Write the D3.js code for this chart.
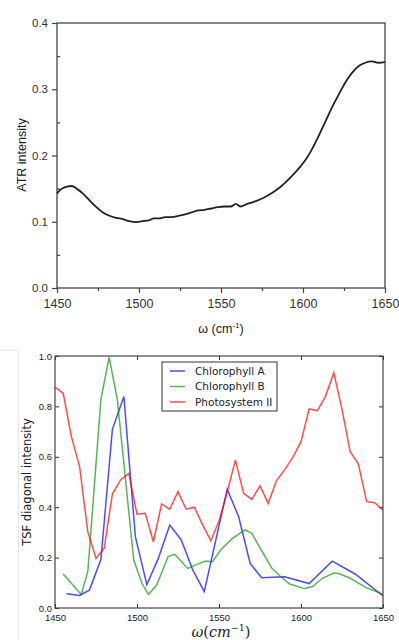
<!DOCTYPE html>
<html>
<head>
<meta charset="utf-8">
<script src="https://cdn.jsdelivr.net/npm/d3@7"></script>
<style>
  body { margin: 0; background: #fff; }
  svg { display: block; }
</style>
</head>
<body>
<svg id="chart" width="399" height="640"></svg>
<script>
// top panel: ATR spectrum
const atrOmega = [1450, 1453, 1456, 1459, 1462, 1466, 1470, 1474, 1478, 1482, 1486, 1490, 1494, 1498,
  1502, 1506, 1509, 1512, 1516, 1520, 1524, 1528, 1532, 1536, 1540, 1544, 1548, 1552, 1556, 1559,
  1562, 1566, 1570, 1574, 1578, 1582, 1586, 1590, 1594, 1598, 1602, 1606, 1610, 1614, 1618, 1622,
  1626, 1630, 1634, 1638, 1642, 1646, 1650];
const atrValues = [0.143, 0.150, 0.153, 0.154, 0.150, 0.142, 0.132, 0.122, 0.114, 0.109, 0.106, 0.104, 0.101, 0.0995,
  0.101, 0.102, 0.105, 0.105, 0.107, 0.107, 0.109, 0.111, 0.114, 0.117, 0.118, 0.120, 0.122, 0.123, 0.123, 0.127,
  0.123, 0.127, 0.130, 0.134, 0.139, 0.145, 0.152, 0.161, 0.171, 0.182, 0.195, 0.212, 0.232, 0.253, 0.274, 0.293,
  0.311, 0.325, 0.335, 0.340, 0.342, 0.340, 0.341];
const atrYTicks = [0, 0.1, 0.2, 0.3, 0.4];
const atrYMinor = [0.05, 0.15, 0.25, 0.35];
const omegaTicks = [1450, 1500, 1550, 1600, 1650];
const omegaMinor = [1475, 1525, 1575, 1625];

// bottom panel: TSF diagonal
const chlAOmega = [1457, 1465, 1471, 1478, 1485, 1492, 1499, 1506, 1513, 1520, 1527, 1534, 1541, 1555,
  1562, 1569, 1576, 1590, 1605, 1619, 1633, 1650];
const chlAValues = [0.057, 0.050, 0.071, 0.193, 0.709, 0.839, 0.283, 0.093, 0.197, 0.329, 0.270, 0.151, 0.065, 0.471,
  0.362, 0.177, 0.120, 0.124, 0.097, 0.186, 0.135, 0.048];
const chlBOmega = [1455, 1466, 1470, 1478, 1483, 1488, 1498, 1503, 1507, 1512, 1519, 1523, 1531, 1538,
  1542, 1546, 1551, 1558, 1566, 1570, 1582, 1587, 1593, 1602, 1607, 1613, 1620, 1623, 1630, 1640, 1650];
const chlBValues = [0.135, 0.054, 0.144, 0.828, 0.995, 0.828, 0.190, 0.098, 0.054, 0.091, 0.204, 0.213, 0.157, 0.177,
  0.186, 0.184, 0.230, 0.275, 0.310, 0.296, 0.160, 0.128, 0.095, 0.077, 0.085, 0.118, 0.139, 0.137, 0.118, 0.080, 0.055];
const psOmega = d3.range(1450, 1651, 5);
const psValues = [0.876, 0.852, 0.680, 0.561, 0.303, 0.197, 0.237, 0.452, 0.508, 0.534, 0.372, 0.376, 0.263, 0.413,
  0.392, 0.462, 0.392, 0.400, 0.330, 0.267, 0.345, 0.460, 0.587, 0.455, 0.431, 0.485, 0.415, 0.505, 0.548, 0.598,
  0.660, 0.790, 0.783, 0.841, 0.934, 0.788, 0.620, 0.571, 0.422, 0.418, 0.389];
const seriesNames = ["Chlorophyll A", "Chlorophyll B", "Photosystem II"];
const seriesColors = ["rgba(0,0,255,0.7)", "rgba(0,140,0,0.65)", "rgba(255,0,0,0.7)"];
const tsfYTicks = [0, 0.2, 0.4, 0.6, 0.8, 1.0];

const svg = d3.select("#chart");

// faint screenshot border
svg.append("path")
  .attr("d", "M0,350.5H18.5V640")
  .attr("fill", "none")
  .attr("stroke", "#e8e8e8");

// ---------- top panel ----------
const x1 = d3.scaleLinear().domain([1450, 1650]).range([57, 385]);
const y1 = d3.scaleLinear().domain([0, 0.4]).range([288, 23]);
const atrPanel = svg.append("g").attr("font-family", "'Liberation Sans', Arial, sans-serif");

const styleAxis = (g, size) => {
  g.select(".domain").remove();
  g.selectAll("line").attr("stroke", "#444").attr("stroke-width", 1.2);
  g.selectAll("text").attr("font-size", size).attr("fill", "#333").attr("font-family", null);
};

atrPanel.append("g")
  .attr("transform", "translate(0,288)")
  .call(d3.axisBottom(x1).tickValues(omegaTicks).tickFormat(d3.format("d")).tickSize(5).tickPadding(6))
  .call(g => styleAxis(g, 12.5));
atrPanel.append("g")
  .attr("transform", "translate(0,288)")
  .call(d3.axisBottom(x1).tickValues(omegaMinor).tickFormat("").tickSize(3))
  .call(g => styleAxis(g, 12));
atrPanel.append("g")
  .attr("transform", "translate(57,0)")
  .call(d3.axisLeft(y1).tickValues(atrYTicks).tickFormat(d3.format(".1f")).tickSize(5).tickPadding(4))
  .call(g => styleAxis(g, 11.5));
atrPanel.append("g")
  .attr("transform", "translate(57,0)")
  .call(d3.axisLeft(y1).tickValues(atrYMinor).tickFormat("").tickSize(-3))
  .call(g => styleAxis(g, 11));

atrPanel.append("rect")
  .attr("x", x1(1450)).attr("y", y1(0.4))
  .attr("width", x1(1650) - x1(1450)).attr("height", y1(0) - y1(0.4))
  .attr("fill", "none").attr("stroke", "#444").attr("stroke-width", 1.3);

atrPanel.append("path")
  .datum(atrOmega.map((w, i) => [w, atrValues[i]]))
  .attr("fill", "none")
  .attr("stroke", "#222")
  .attr("stroke-width", 1.8)
  .attr("d", d3.line().x(d => x1(d[0])).y(d => y1(d[1])).curve(d3.curveMonotoneX));

atrPanel.append("text")
  .attr("transform", "translate(26,155) rotate(-90)")
  .attr("text-anchor", "middle")
  .attr("font-size", 12.5)
  .attr("fill", "#222")
  .text("ATR intensity");

const xl1 = atrPanel.append("text")
  .attr("x", 221).attr("y", 333)
  .attr("text-anchor", "middle")
  .attr("font-size", 12.5)
  .attr("fill", "#222");
xl1.append("tspan").text("ω (cm");
xl1.append("tspan").attr("dy", -5).attr("font-size", 8).text("-1");
xl1.append("tspan").attr("dy", 5).text(")");

// ---------- bottom panel ----------
const x2 = d3.scaleLinear().domain([1450, 1650]).range([55, 383]);
const y2 = d3.scaleLinear().domain([0, 1]).range([608, 356]);
const tsfPanel = svg.append("g").attr("font-family", "'DejaVu Sans', sans-serif");

const styleAxis2 = g => {
  g.select(".domain").remove();
  g.selectAll("line").attr("stroke", "#333").attr("stroke-width", 1);
  g.selectAll("text").attr("font-size", 9.5).attr("fill", "#222").attr("font-family", null);
};

tsfPanel.append("g")
  .attr("transform", "translate(0,608)")
  .call(d3.axisBottom(x2).tickValues(omegaTicks).tickFormat(d3.format("d")).tickSizeInner(-4).tickSizeOuter(0).tickPadding(6))
  .call(styleAxis2);
tsfPanel.append("g")
  .attr("transform", "translate(0,356)")
  .call(d3.axisTop(x2).tickValues(omegaTicks).tickFormat("").tickSizeInner(-4).tickSizeOuter(0))
  .call(styleAxis2);
tsfPanel.append("g")
  .attr("transform", "translate(55,0)")
  .call(d3.axisLeft(y2).tickValues(tsfYTicks).tickFormat(d3.format(".1f")).tickSizeInner(-4).tickSizeOuter(0).tickPadding(3))
  .call(styleAxis2);
tsfPanel.append("g")
  .attr("transform", "translate(383,0)")
  .call(d3.axisRight(y2).tickValues(tsfYTicks).tickFormat("").tickSizeInner(-4).tickSizeOuter(0))
  .call(styleAxis2);

const line2 = d3.line().x(d => x2(d[0])).y(d => y2(d[1]));
const tsfSeries = [
  chlAOmega.map((w, i) => [w, chlAValues[i]]),
  chlBOmega.map((w, i) => [w, chlBValues[i]]),
  psOmega.map((w, i) => [w, psValues[i]])
];

tsfPanel.append("clipPath").attr("id", "clip2")
  .append("rect").attr("x", 55).attr("y", 356).attr("width", 328).attr("height", 252);

tsfPanel.append("g")
  .attr("clip-path", "url(#clip2)")
  .selectAll("path")
  .data(tsfSeries)
  .join("path")
  .attr("fill", "none")
  .attr("stroke", (d, i) => seriesColors[i])
  .attr("stroke-width", 1.5)
  .attr("d", line2);

tsfPanel.append("rect")
  .attr("x", 55).attr("y", 356).attr("width", 328).attr("height", 252)
  .attr("fill", "none").attr("stroke", "#444").attr("stroke-width", 1.2);

// legend
const legend = tsfPanel.append("g");
legend.append("rect")
  .attr("x", 162).attr("y", 362).attr("width", 115).attr("height", 49)
  .attr("fill", "#fff").attr("stroke", "#333").attr("stroke-width", 1);
const rows = legend.selectAll("g.row")
  .data(seriesNames)
  .join("g")
  .attr("class", "row")
  .attr("transform", (d, i) => `translate(0,${371 + i * 15.5})`);
rows.append("line")
  .attr("x1", 170).attr("x2", 185)
  .attr("stroke", (d, i) => seriesColors[i])
  .attr("stroke-width", 1.5);
rows.append("text")
  .attr("x", 195).attr("dy", "0.35em")
  .attr("font-size", 10.5)
  .attr("fill", "#222")
  .text(d => d);

tsfPanel.append("text")
  .attr("transform", "translate(31,482) rotate(-90)")
  .attr("text-anchor", "middle")
  .attr("font-size", 11.5)
  .attr("fill", "#222")
  .text("TSF diagonal intensity");

const xl2 = tsfPanel.append("text")
  .attr("x", 221).attr("y", 637)
  .attr("text-anchor", "middle")
  .attr("font-family", "'DejaVu Serif', serif")
  .attr("font-size", 14.5)
  .attr("fill", "#222");
xl2.append("tspan").attr("font-style", "italic").text("ω");
xl2.append("tspan").text("(");
xl2.append("tspan").attr("font-style", "italic").text("cm");
xl2.append("tspan").attr("dy", -6).attr("font-size", 9.5).text("−1");
xl2.append("tspan").attr("dy", 6).text(")");
</script>
</body>
</html>
